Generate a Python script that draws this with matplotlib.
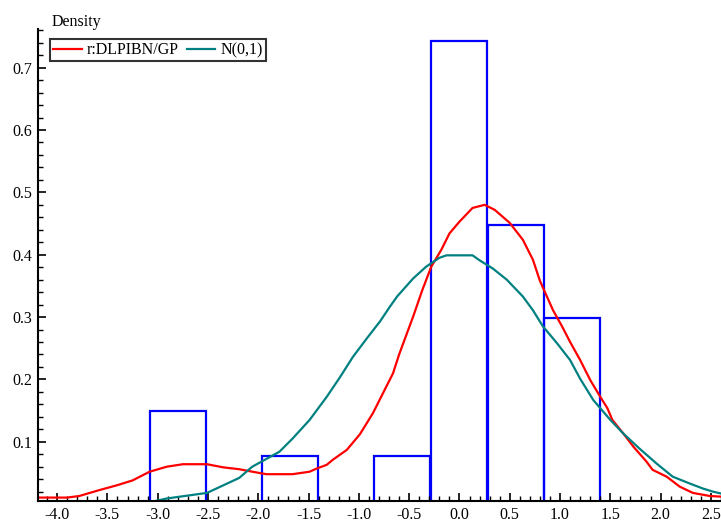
import matplotlib.pyplot as plt
from matplotlib.ticker import MultipleLocator, FormatStrFormatter

plt.rcParams['font.family'] = ['Liberation Serif', 'DejaVu Serif']
plt.rcParams['axes.unicode_minus'] = False

# histogram (bin width ~0.557), empty bins have height 0
bin_left = [-3.080, -2.523, -1.966, -1.409, -0.852, -0.285, 0.282, 0.839]
bin_width = 0.557
bin_height = [0.150, 0.0, 0.0765, 0.0, 0.0765, 0.742, 0.447, 0.299]

# r:DLPIBN/GP density
red_x = [-4.19, -3.90, -3.78, -3.58, -3.41, -3.25, -3.08, -2.91, -2.75, -2.51,
         -2.35, -2.19, -2.06, -1.92, -1.66, -1.49, -1.42, -1.32, -1.26, -1.12,
         -0.99, -0.86, -0.76, -0.66, -0.60, -0.46, -0.37, -0.28, -0.18, -0.10,
         0.00, 0.13, 0.25, 0.35, 0.50, 0.63, 0.73, 0.80, 0.93, 1.02,
         1.10, 1.20, 1.30, 1.40, 1.47, 1.52, 1.63, 1.73, 1.86, 1.92,
         2.06, 2.19, 2.32, 2.49, 2.60]
red_y = [0.0105, 0.0105, 0.013, 0.0225, 0.030, 0.038, 0.052, 0.060, 0.064, 0.064,
         0.059, 0.056, 0.052, 0.048, 0.048, 0.052, 0.057, 0.063, 0.071, 0.087,
         0.112, 0.146, 0.178, 0.210, 0.240, 0.301, 0.343, 0.381, 0.408, 0.434,
         0.453, 0.475, 0.480, 0.472, 0.451, 0.424, 0.392, 0.358, 0.311, 0.285,
         0.260, 0.231, 0.199, 0.172, 0.154, 0.135, 0.113, 0.092, 0.068, 0.055,
         0.044, 0.028, 0.018, 0.013, 0.012]

# N(0,1)
teal_x = [-4.19, -3.08, -2.91, -2.51, -2.35, -2.19, -2.06, -1.79, -1.66, -1.49,
          -1.32, -1.19, -1.06, -0.92, -0.79, -0.69, -0.62, -0.46, -0.33, -0.20,
          -0.13, 0.13, 0.20, 0.33, 0.47, 0.63, 0.73, 0.83, 0.97, 1.10,
          1.20, 1.33, 1.50, 1.63, 1.79, 1.96, 2.12, 2.29, 2.42, 2.52, 2.60]
teal_y = [0.002, 0.003, 0.009, 0.018, 0.030, 0.042, 0.060, 0.084, 0.105, 0.135,
          0.172, 0.203, 0.236, 0.266, 0.293, 0.317, 0.333, 0.362, 0.381, 0.395,
          0.399, 0.399, 0.391, 0.378, 0.360, 0.333, 0.311, 0.285, 0.258, 0.231,
          0.201, 0.167, 0.135, 0.113, 0.089, 0.065, 0.044, 0.033, 0.025, 0.020, 0.017]

fig = plt.figure(figsize=(7.21, 5.22), dpi=100)
ax = fig.add_axes([38 / 721, 21 / 522, 683 / 721, 472 / 522])

for left, h in zip(bin_left, bin_height):
    if h > 0:
        ax.bar(left, h, width=bin_width, align='edge', fill=False,
               edgecolor='#0000ff', linewidth=1.6)

ax.plot(red_x, red_y, color='#ff0000', lw=1.6, label='r:DLPIBN/GP')
ax.plot(teal_x, teal_y, color='#008080', lw=1.6, label='N(0,1)')

ax.set_xlim(-4.19, 2.6)
ax.set_ylim(0.005, 0.762)

ax.spines['top'].set_visible(False)
ax.spines['right'].set_visible(False)
ax.spines['left'].set_linewidth(1.5)
ax.spines['bottom'].set_linewidth(1.5)

ax.xaxis.set_major_locator(MultipleLocator(0.5))
ax.xaxis.set_minor_locator(MultipleLocator(0.1))
ax.yaxis.set_major_locator(MultipleLocator(0.1))
ax.yaxis.set_minor_locator(MultipleLocator(0.02))
ax.xaxis.set_major_formatter(FormatStrFormatter('%.1f'))
ax.yaxis.set_major_formatter(FormatStrFormatter('%.1f'))
ax.set_yticks([0.1, 0.2, 0.3, 0.4, 0.5, 0.6, 0.7])
ax.tick_params(which='major', direction='in', length=6, width=1.2, labelsize=11.5, pad=4)
ax.tick_params(which='minor', direction='in', length=3.5, width=1.0)

leg = ax.legend(loc='upper left', bbox_to_anchor=(12 / 683, 1 - 10 / 472), ncol=2,
                frameon=True, fancybox=False, fontsize=11.5, handlelength=1.8,
                handletextpad=0.3, columnspacing=0.5, borderpad=0.2,
                borderaxespad=0.0)
leg.get_frame().set_edgecolor('black')
leg.get_frame().set_linewidth(1.5)

fig.text(52 / 721, 1 - 22 / 522, 'Density', fontsize=11.5, ha='left', va='center')

fig.savefig('out.png', dpi=100)
